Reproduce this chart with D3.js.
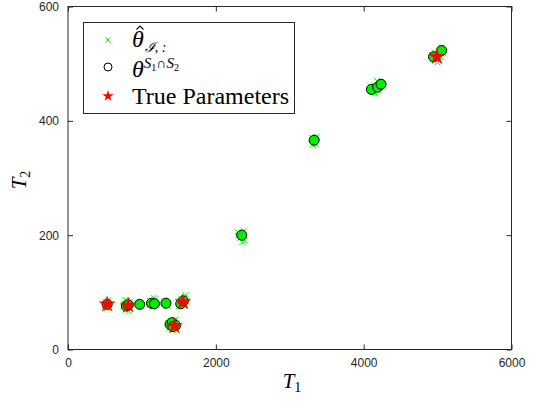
<!DOCTYPE html>
<html>
<head>
<meta charset="utf-8">
<script src="https://cdn.jsdelivr.net/npm/d3@7"></script>
<style>
  body { margin: 0; background: #fff; }
  svg { display: block; }
  .tick text { font-family: "Liberation Sans", Arial, sans-serif; font-size: 12px; fill: #262626; }
</style>
</head>
<body>
<div id="chart"></div>
<script>
// estimated parameters (green crosses), T1 / T2
var estT1 = [510, 545, 525, 555, 500, 540,
             760, 780, 800, 830, 850, 770, 820, 745, 840,
             950, 990, 1110, 1140, 1180, 1200, 1100, 1160, 1300, 1345,
             1500, 1530, 1570, 1590, 1600, 1515, 1580,
             1370, 1395, 1440, 1470, 1360, 1450, 1410,
             2300, 2330, 2390, 2380, 2360, 2310,
             3300, 3350, 3320, 3360, 3310,
             4120, 4150, 4200, 4180, 4230, 4100, 4160,
             4940, 4960, 5020, 5050, 5080, 4930, 5000, 5040];
var estT2 = [83, 75, 72, 84, 78, 86,
             80, 70, 85, 72, 80, 86, 68, 75, 84,
             82, 76, 85, 74, 88, 78, 78, 90, 85, 77,
             76, 88, 90, 95, 84, 84, 76,
             38, 50, 36, 46, 46, 52, 34,
             205, 195, 190, 208, 188, 200,
             370, 360, 362, 372, 358,
             452, 462, 452, 470, 466, 460, 448,
             508, 520, 505, 528, 518, 515, 502, 512];

// intersection estimates (circles)
var intT1 = [530, 790, 815, 970, 1130, 1170, 1325, 1525, 1560, 1380, 1410, 1455, 1420,
             2350, 3330, 4105, 4190, 4235, 4945, 5055];
var intT2 = [79, 76, 78, 79, 81, 80, 81, 80, 85, 44, 47, 42, 40,
             200, 366, 455, 459, 464, 512, 523];

// true parameters (red stars)
var trueT1 = [530, 815, 1440, 1555, 4990];
var trueT2 = [79, 77, 41, 83, 512];

var xTicks = [0, 2000, 4000, 6000];
var yTicks = [0, 200, 400, 600];

var W = 536, H = 403;
var margin = {top: 6.5, right: 24.5, bottom: 53.5, left: 68};
var width = W - margin.left - margin.right,
    height = H - margin.top - margin.bottom;

var svg = d3.select("#chart").append("svg")
    .attr("width", W)
    .attr("height", H);
var g = svg.append("g")
    .attr("transform", "translate(" + margin.left + "," + margin.top + ")");

var x = d3.scaleLinear().domain([0, 6000]).range([0, width]);
var y = d3.scaleLinear().domain([0, 600]).range([height, 0]);

// axes, ticks pointing inward
var axisCol = "#262626";
function styleAxis(sel) {
    sel.select(".domain").remove();
    sel.selectAll(".tick line").attr("stroke", axisCol);
}
g.append("g").attr("transform", "translate(0," + height + ")")
    .call(d3.axisBottom(x).tickValues(xTicks).tickSizeInner(-5).tickPadding(9).tickFormat(d3.format("d")))
    .call(styleAxis);
g.append("g")
    .call(d3.axisLeft(y).tickValues(yTicks).tickSizeInner(-5).tickPadding(9).tickFormat(d3.format("d")))
    .call(styleAxis);
g.append("g")
    .call(d3.axisTop(x).tickValues(xTicks).tickSizeInner(-5).tickFormat(""))
    .call(styleAxis);
g.append("g").attr("transform", "translate(" + width + ",0)")
    .call(d3.axisRight(y).tickValues(yTicks).tickSizeInner(-5).tickFormat(""))
    .call(styleAxis);
g.selectAll(".tick text").attr("fill", axisCol).attr("font-size", 12);

// plot box
g.append("rect")
    .attr("width", width).attr("height", height)
    .attr("fill", "none").attr("stroke", axisCol).attr("stroke-width", 1);

var crossPath = "M-3,-3L3,3M-3,3L3,-3";
var starPath = d3.symbol().type(d3.symbolStar).size(75)();

// green crosses
g.selectAll(".est")
    .data(d3.range(estT1.length))
    .enter().append("path")
    .attr("class", "est")
    .attr("d", crossPath)
    .attr("transform", function(i) { return "translate(" + x(estT1[i]) + "," + y(estT2[i]) + ")"; })
    .attr("stroke", "#00ff00").attr("stroke-width", 1).attr("fill", "none");

// circles
g.selectAll(".int")
    .data(d3.range(intT1.length))
    .enter().append("circle")
    .attr("class", "int")
    .attr("cx", function(i) { return x(intT1[i]); })
    .attr("cy", function(i) { return y(intT2[i]); })
    .attr("r", 5)
    .attr("fill", "#00ee00").attr("stroke", "#000").attr("stroke-width", 1);

// stars
g.selectAll(".tru")
    .data(d3.range(trueT1.length))
    .enter().append("path")
    .attr("class", "tru")
    .attr("d", starPath)
    .attr("transform", function(i) { return "translate(" + x(trueT1[i]) + "," + y(trueT2[i]) + ")"; })
    .attr("fill", "#ff0000").attr("stroke", "#ff0000").attr("stroke-width", 0.5);

// axis labels
var serif = "'Liberation Serif', 'DejaVu Serif', serif";
var xl = svg.append("text")
    .attr("x", 292).attr("y", 388)
    .attr("text-anchor", "middle")
    .style("font-family", serif).style("font-size", "21px").style("font-style", "italic")
    .attr("fill", "#000");
xl.append("tspan").text("T");
xl.append("tspan").attr("dy", 4).style("font-size", "14px").style("font-style", "normal").text("1");

var yl = svg.append("text")
    .attr("transform", "translate(26,180) rotate(-90)")
    .attr("text-anchor", "middle")
    .style("font-family", serif).style("font-size", "21px").style("font-style", "italic")
    .attr("fill", "#000");
yl.append("tspan").text("T");
yl.append("tspan").attr("dy", 4).style("font-size", "14px").style("font-style", "normal").text("2");

// legend
var lg = svg.append("g");
lg.append("rect")
    .attr("x", 83.5).attr("y", 22.5).attr("width", 211).attr("height", 91)
    .attr("fill", "#fff").attr("stroke", axisCol).attr("stroke-width", 1);

lg.append("path").attr("d", "M-2.5,-2.5L2.5,2.5M-2.5,2.5L2.5,-2.5")
    .attr("transform", "translate(108,40)")
    .attr("stroke", "#00ff00").attr("stroke-width", 1).attr("fill", "none");
lg.append("circle").attr("cx", 108).attr("cy", 67).attr("r", 4)
    .attr("fill", "none").attr("stroke", "#000").attr("stroke-width", 1);
lg.append("path").attr("d", d3.symbol().type(d3.symbolStar).size(40)())
    .attr("transform", "translate(108,96)")
    .attr("fill", "#ff0000");

var lfs = "24px";
var t1 = lg.append("text").attr("x", 132).attr("y", 47)
    .style("font-family", serif).style("font-size", lfs).attr("fill", "#000");
t1.append("tspan").style("font-style", "italic").text("\u03B8");
t1.append("tspan").attr("dy", 5).attr("dx", 1).style("font-size", "14px").style("font-style", "italic").text("\u2110, :");
// hat over theta, drawn as a small caret
lg.append("path").attr("d", "M136.5,29.5L140,26L143.5,29.5")
    .attr("fill", "none").attr("stroke", "#000").attr("stroke-width", 1.1);

var t2 = lg.append("text").attr("x", 132).attr("y", 77)
    .style("font-family", serif).style("font-size", lfs).attr("fill", "#000");
t2.append("tspan").style("font-style", "italic").text("\u03B8");
t2.append("tspan").attr("dy", -9).style("font-size", "15px").style("font-style", "italic").text("S");
t2.append("tspan").attr("dy", 3).style("font-size", "10px").text("1");
t2.append("tspan").attr("dy", -3).style("font-size", "14px").text("\u2229");
t2.append("tspan").style("font-size", "15px").style("font-style", "italic").text("S");
t2.append("tspan").attr("dy", 3).style("font-size", "10px").text("2");

lg.append("text").attr("x", 132).attr("y", 104)
    .style("font-family", serif).style("font-size", lfs).attr("fill", "#000")
    .text("True Parameters");
</script>
</body>
</html>
